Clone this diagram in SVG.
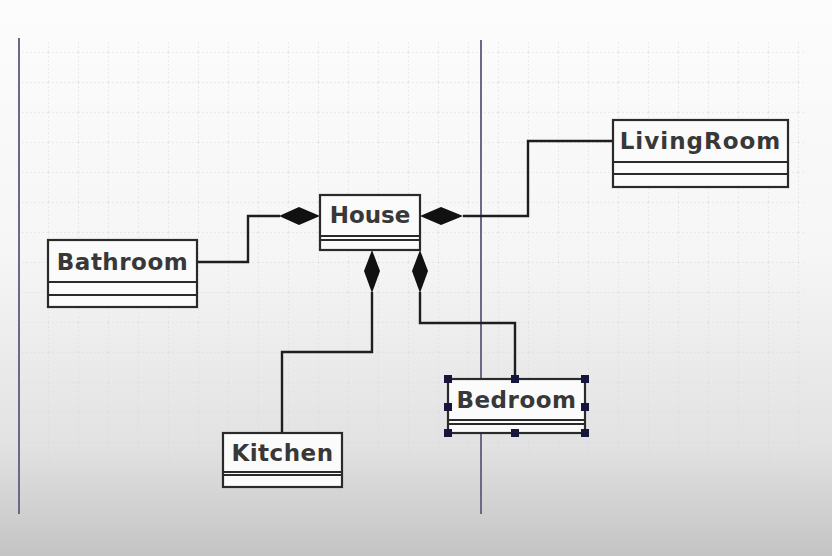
<svg xmlns="http://www.w3.org/2000/svg" width="832" height="556" viewBox="0 0 832 556">
<defs>
<linearGradient id="bg" x1="0" y1="0" x2="0" y2="1">
<stop offset="0" stop-color="#fcfcfd"/>
<stop offset="0.45" stop-color="#f6f6f7"/>
<stop offset="0.8" stop-color="#e2e2e3"/>
<stop offset="0.92" stop-color="#d0d0d0"/>
<stop offset="1" stop-color="#c4c4c4"/>
</linearGradient>
<pattern id="grid" x="18" y="22" width="30" height="30" patternUnits="userSpaceOnUse">
<path d="M0 0H30M0 0V30" fill="none" stroke="#d6d6e0" stroke-width="1" stroke-dasharray="2 2"/>
</pattern>
<style>
.box{fill:#fbfbfb;stroke:#2a2a2a;stroke-width:2.2}
.sep{stroke:#2a2a2a;stroke-width:2}
.lbl{font-family:"DejaVu Sans",Verdana,sans-serif;font-weight:bold;font-size:23px;fill:#383838;text-anchor:middle}
.edge{fill:none;stroke:#1e1e1e;stroke-width:2.4}
.dia{fill:#111;stroke:none}
.handle{fill:#16163c}
.vline{stroke:#6a6a88;stroke-width:2}
</style>
</defs>
<rect width="832" height="556" fill="url(#bg)"/>
<rect x="20" y="40" width="785" height="465" fill="url(#grid)" opacity="0.85"/>
<line class="vline" x1="19" y1="38" x2="19" y2="514"/>
<line class="vline" x1="481" y1="40" x2="481" y2="514"/>

<g id="connectors">
<polyline class="edge" points="197,262 248,262 248,216 280,216"/>
<polygon class="dia" points="279,216 299,207 320,216 299,225"/>
<polyline class="edge" points="463,216 528,216 528,141 613,141"/>
<polygon class="dia" points="420,216 441,207 463,216 441,225"/>
<polyline class="edge" points="372,292 372,352 282,352 282,433"/>
<polygon class="dia" points="372,250 380,271 372,293 364,271"/>
<polyline class="edge" points="420,292 420,323 515,323 515,379"/>
<polygon class="dia" points="420,250 428,271 420,293 412,271"/>
</g>

<g id="House">
<rect class="box" x="320" y="195" width="100" height="55"/>
<line class="sep" x1="320" y1="236" x2="420" y2="236"/>
<line class="sep" x1="320" y1="240" x2="420" y2="240"/>
<text class="lbl" x="370" y="223">House</text>
</g>

<g id="Bathroom">
<rect class="box" x="48" y="240" width="149" height="67"/>
<line class="sep" x1="48" y1="282" x2="197" y2="282"/>
<line class="sep" x1="48" y1="295" x2="197" y2="295"/>
<text class="lbl" x="122.5" y="270" letter-spacing="0.5">Bathroom</text>
</g>

<g id="LivingRoom">
<rect class="box" x="613" y="120" width="175" height="67"/>
<line class="sep" x1="613" y1="162" x2="788" y2="162"/>
<line class="sep" x1="613" y1="174" x2="788" y2="174"/>
<text class="lbl" x="700.5" y="149" letter-spacing="1">LivingRoom</text>
</g>

<g id="Kitchen">
<rect class="box" x="223" y="433" width="119" height="54"/>
<line class="sep" x1="223" y1="472" x2="342" y2="472"/>
<line class="sep" x1="223" y1="475" x2="342" y2="475"/>
<text class="lbl" x="282.5" y="461" letter-spacing="0.5">Kitchen</text>
</g>

<g id="Bedroom">
<rect class="box" x="448" y="379" width="137" height="54"/>
<line class="sep" x1="448" y1="420" x2="585" y2="420"/>
<line class="sep" x1="448" y1="424" x2="585" y2="424"/>
<text class="lbl" x="516.5" y="408" letter-spacing="0.5">Bedroom</text>
<rect class="handle" x="444" y="375" width="8" height="8"/>
<rect class="handle" x="511" y="375" width="8" height="8"/>
<rect class="handle" x="581" y="375" width="8" height="8"/>
<rect class="handle" x="444" y="403" width="8" height="8"/>
<rect class="handle" x="581" y="403" width="8" height="8"/>
<rect class="handle" x="444" y="429" width="8" height="8"/>
<rect class="handle" x="511" y="429" width="8" height="8"/>
<rect class="handle" x="581" y="429" width="8" height="8"/>
</g>
</svg>
